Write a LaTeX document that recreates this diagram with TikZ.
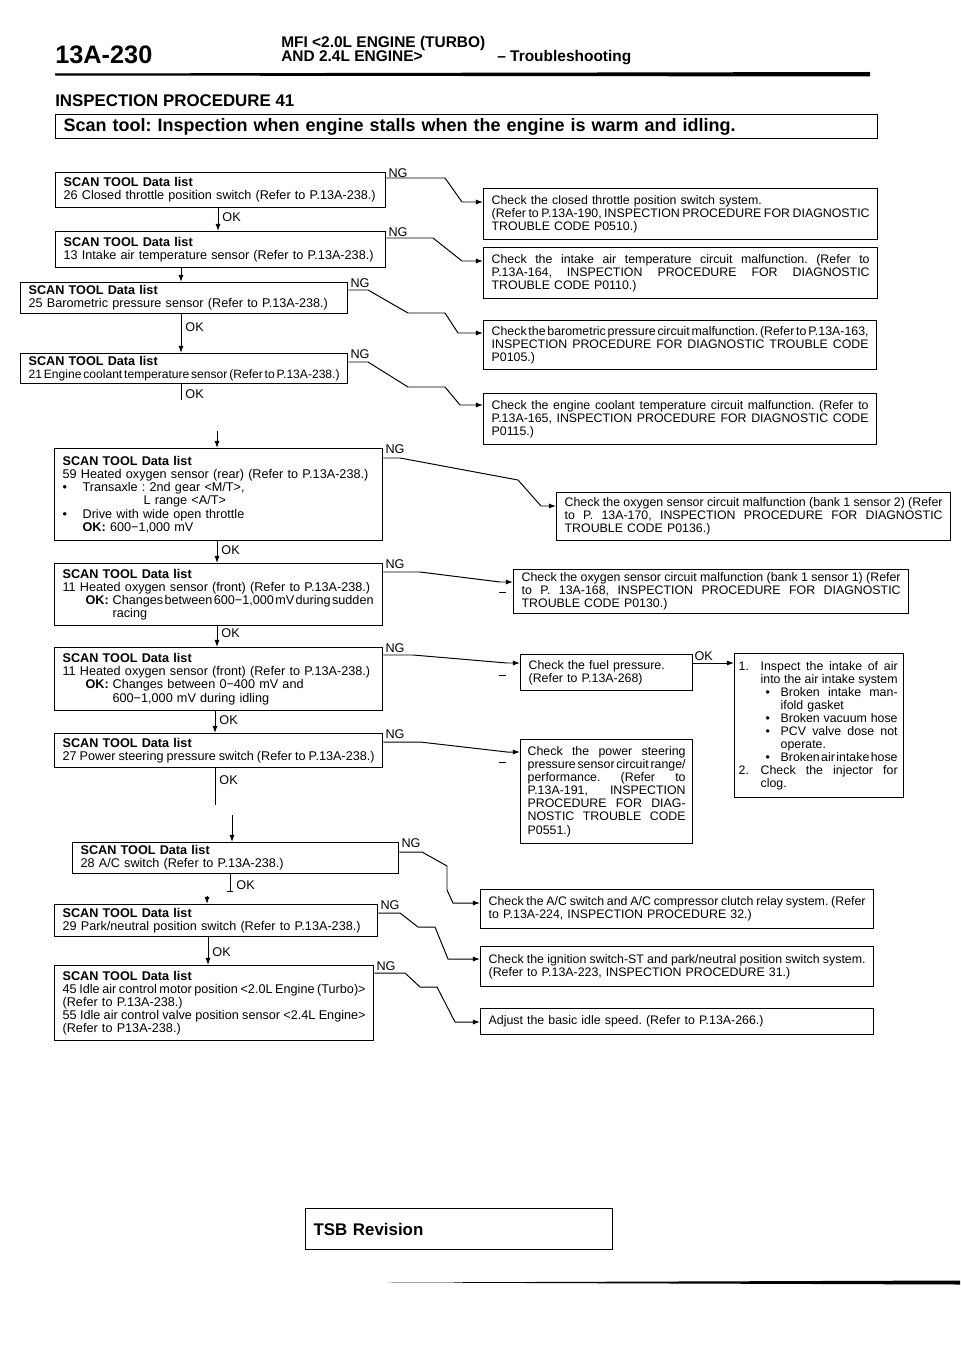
\documentclass[tikz,border=0pt]{standalone}
\usepackage{fontspec}
\setmainfont{Liberation Sans}
\usetikzlibrary{arrows.meta, calc}
\frenchspacing
\newcommand\bodyfont{\fontsize{9}{9.3}\selectfont}
\newcommand\checkfont{\fontsize{8.8}{9.3}\selectfont}
% a line spread to a given width: words pushed apart by fil glue
\makeatletter
\newcommand\jlinew[2]{\leavevmode\hbox to #1{\jl@word#2 \@nil}}
\def\jl@word#1 #2\@nil{#1\if\relax\detokenize{#2}\relax\else\hskip 0.08em plus 1fil\relax\jl@word#2\@nil\fi}
\makeatother
\newcommand\jline[1]{\jlinew{\hsize}{#1}}
\newcommand\oneline[1]{\makebox[\hsize][l]{#1}}

\begin{document}
\begin{tikzpicture}[x=0.25mm, y=-0.25mm,
    scanbox/.style={rectangle, draw, line width=0.9pt, anchor=north west, inner xsep=2mm, inner ysep=0pt, font=\bodyfont},
    checkbox/.style={scanbox, font=\checkfont},
    headtext/.style={anchor=base west, inner sep=0pt, font=\fontsize{11}{11}\selectfont\bfseries},
    ngtag/.style={inner sep=0pt, anchor=west, font=\bodyfont},
    oktag/.style={inner sep=0pt, font=\bodyfont},
    arrow/.style={-{Latex[length=1.8mm, width=1.3mm]}, line width=0.7pt},
    stub/.style={line width=0.7pt}
]
\useasboundingbox (0,0) rectangle (960,1358);

% page header
\node[anchor=base west, inner sep=0pt, font=\fontsize{18}{18}\selectfont\bfseries] (pageno) at (55,64) {13A-230};
\node[headtext] (mfi) at (281,48) {MFI <2.0L ENGINE (TURBO)};
\node[headtext] (engines) at (281,62) {AND 2.4L ENGINE>};
\node[headtext] (trouble) at (497,62) {– Troubleshooting};
\fill (55,73.5) -- (870,72) -- (870,76.5) -- (55,75.5) -- cycle;
\node[anchor=base west, inner sep=0pt, font=\fontsize{12}{12}\selectfont\bfseries] (procno) at (55,107) {INSPECTION PROCEDURE 41};
\node[scanbox, line width=1pt, minimum width=205.5mm, minimum height=6mm, text width=201.5mm, font=\fontsize{12.8}{13}\selectfont\bfseries] (symptom) at (55,114) {Scan tool: Inspection when engine stalls when the engine is warm and idling.};

% scan tool checks
\node[scanbox, minimum width=82.5mm, minimum height=8.75mm, text width=78.5mm] (L1) at (55,172) {\textbf{SCAN TOOL Data list}\\\oneline{26 Closed throttle position switch (Refer to P.13A-238.)}};
\node[scanbox, minimum width=82.5mm, minimum height=9mm, text width=78.5mm] (L2) at (55,231) {\textbf{SCAN TOOL Data list}\\\oneline{13 Intake air temperature sensor (Refer to P.13A-238.)}};
\node[scanbox, minimum width=81.75mm, minimum height=7.75mm, text width=77.75mm] (L3) at (20,282) {\textbf{SCAN TOOL Data list}\\\oneline{25 Barometric pressure sensor (Refer to P.13A-238.)}};
\node[scanbox, minimum width=81.75mm, minimum height=7.5mm, text width=77.75mm] (L4) at (20,353) {\textbf{SCAN TOOL Data list}\\{\fontsize{8.6}{9.3}\selectfont\jline{21 Engine coolant temperature sensor (Refer to P.13A-238.)}}};
\node[scanbox, minimum width=82mm, minimum height=23mm, text width=78mm] (L5) at (54,448) {\textbf{SCAN TOOL Data list}\\
  \oneline{59 Heated oxygen sensor (rear) (Refer to P.13A-238.)}\\
  \makebox[5mm][l]{\textbullet}Transaxle : 2nd gear <M/T>,\\
  \hspace*{20.25mm}L range <A/T>\\
  \makebox[5mm][l]{\textbullet}Drive with wide open throttle\\
  \hspace*{5mm}\textbf{OK:} 600−1,000 mV};
\node[scanbox, minimum width=82mm, minimum height=15.5mm, text width=78mm] (L6) at (54,563) {\textbf{SCAN TOOL Data list}\\
  \oneline{11 Heated oxygen sensor (front) (Refer to P.13A-238.)}\\
  \hspace*{5.75mm}\makebox[6.75mm][l]{\textbf{OK:}}\jlinew{65.25mm}{Changes between 600−1,000 mV during sudden}\\
  \hspace*{12.5mm}racing};
\node[scanbox, minimum width=82mm, minimum height=15.75mm, text width=78mm] (L7) at (54,647) {\textbf{SCAN TOOL Data list}\\
  \oneline{11 Heated oxygen sensor (front) (Refer to P.13A-238.)}\\
  \hspace*{5.75mm}\makebox[6.75mm][l]{\textbf{OK:}}Changes between 0−400 mV and\\
  \hspace*{12.5mm}600−1,000 mV during idling};
\node[scanbox, minimum width=82mm, minimum height=8.5mm, text width=78mm] (L8) at (54,733) {\textbf{SCAN TOOL Data list}\\\jline{27 Power steering pressure switch (Refer to P.13A-238.)}};
\node[scanbox, minimum width=81.5mm, minimum height=7.75mm, text width=77.5mm] (L9) at (72,842) {\textbf{SCAN TOOL Data list}\\28 A/C switch (Refer to P.13A-238.)};
\node[scanbox, minimum width=80.75mm, minimum height=8mm, text width=76.75mm] (L10) at (54,904) {\textbf{SCAN TOOL Data list}\\\oneline{29 Park/neutral position switch (Refer to P.13A-238.)}};
\node[scanbox, minimum width=79.75mm, minimum height=18.75mm, text width=75.75mm] (L11) at (54,965) {\textbf{SCAN TOOL Data list}\\
  \jline{45 Idle air control motor position <2.0L Engine (Turbo)>}\\
  (Refer to P.13A-238.)\\
  \jline{55 Idle air control valve position sensor <2.4L Engine>}\\
  (Refer to P13A-238.)};

% repair actions
\node[checkbox, minimum width=98.5mm, minimum height=12.75mm, text width=94.5mm] (R1) at (483,188) {Check the closed throttle position switch system.\\
  \jline{(Refer to P.13A-190, INSPECTION PROCEDURE FOR DIAGNOSTIC}\\TROUBLE CODE P0510.)};
\node[checkbox, minimum width=98.5mm, minimum height=12.75mm, text width=94.5mm] (R2) at (483,247) {\jline{Check the intake air temperature circuit malfunction. (Refer to}\\
  \jline{P.13A-164, INSPECTION PROCEDURE FOR DIAGNOSTIC}\\TROUBLE CODE P0110.)};
\node[checkbox, minimum width=98.25mm, minimum height=12.25mm, text width=94.25mm] (R3) at (483,320) {\jline{Check the barometric pressure circuit malfunction. (Refer to P.13A-163,}\\
  \jline{INSPECTION PROCEDURE FOR DIAGNOSTIC TROUBLE CODE}\\P0105.)};
\node[checkbox, minimum width=98.25mm, minimum height=12.75mm, text width=94.25mm] (R4) at (483,393) {\jline{Check the engine coolant temperature circuit malfunction. (Refer to}\\
  \jline{P.13A-165, INSPECTION PROCEDURE FOR DIAGNOSTIC CODE}\\P0115.)};
\node[checkbox, minimum width=98.5mm, minimum height=12mm, text width=94.5mm] (R5) at (556,492) {\jline{Check the oxygen sensor circuit malfunction (bank 1 sensor 2) (Refer}\\
  \jline{to P. 13A-170, INSPECTION PROCEDURE FOR DIAGNOSTIC}\\TROUBLE CODE P0136.)};
\node[checkbox, minimum width=98.75mm, minimum height=11mm, text width=94.75mm] (R6) at (513,569) {\jline{Check the oxygen sensor circuit malfunction (bank 1 sensor 1) (Refer}\\
  \jline{to P. 13A-168, INSPECTION PROCEDURE FOR DIAGNOSTIC}\\TROUBLE CODE P0130.)};
\node[checkbox, minimum width=43mm, minimum height=9mm, text width=39mm] (R7) at (520,654) {Check the fuel pressure.\\(Refer to P.13A-268)};
\node[checkbox, inner xsep=1.75mm, minimum width=43mm, minimum height=26mm, text width=39.5mm] (R8) at (520,739) {\jline{Check the power steering}\\
  \jline{pressure sensor circuit range/}\\
  \jline{performance. (Refer to}\\
  \jline{P.13A-191, INSPECTION}\\
  \jline{PROCEDURE FOR DIAG-}\\
  \jline{NOSTIC TROUBLE CODE}\\
  P0551.)};
\node[checkbox, inner xsep=1mm, minimum width=42.25mm, minimum height=36mm, text width=40.25mm] (R12) at (734,653) {\makebox[5.5mm][l]{1.}\jlinew{34.25mm}{Inspect the intake of air}\\
  \hspace*{5.5mm}\jlinew{34.25mm}{into the air intake system}\\
  \hspace*{6.75mm}\makebox[3.75mm][l]{\textbullet}\jlinew{29.25mm}{Broken intake man-}\\
  \hspace*{10.5mm}ifold gasket\\
  \hspace*{6.75mm}\makebox[3.75mm][l]{\textbullet}\jlinew{29.25mm}{Broken vacuum hose}\\
  \hspace*{6.75mm}\makebox[3.75mm][l]{\textbullet}\jlinew{29.25mm}{PCV valve dose not}\\
  \hspace*{10.5mm}operate.\\
  \hspace*{6.75mm}\makebox[3.75mm][l]{\textbullet}\jlinew{29.25mm}{Broken air intake hose}\\
  \makebox[5.5mm][l]{2.}\jlinew{34.25mm}{Check the injector for}\\
  \hspace*{5.5mm}clog.};
\node[checkbox, minimum width=98.25mm, minimum height=9.75mm, text width=94.25mm] (R9) at (480,889) {\jline{Check the A/C switch and A/C compressor clutch relay system. (Refer}\\
  to P.13A-224, INSPECTION PROCEDURE 32.)};
\node[checkbox, minimum width=98.25mm, minimum height=10mm, text width=94.25mm] (R10) at (480,946) {\jline{Check the ignition switch-ST and park/neutral position switch system.}\\
  (Refer to P.13A-223, INSPECTION PROCEDURE 31.)};
\node[checkbox, minimum width=98.25mm, minimum height=6.5mm, text width=94.25mm] (R11) at (480,1008) {Adjust the basic idle speed. (Refer to P.13A-266.)};

% NG labels
\foreach \src/\ng in {L1/ng1, L2/ng2, L3/ng3, L4/ng4, L5/ng5, L6/ng6, L7/ng7, L8/ng8, L9/ng9, L10/ng10, L11/ng11}
  \node[ngtag] (\ng) at ($(\src.north east)+(2,1)$) {NG};
\node[ngtag] (ok12) at ($(R7.north east)+(1,2)$) {OK};

% NG branches
\draw[arrow] ($(L1.north east)+(0,6)$) -- (445,178) -- (462,202) -- ($(R1.north west)+(0,14)$);
\draw[arrow] ($(L2.north east)+(0,7)$) -- (433,238) -- (462,261) -- ($(R2.north west)+(0,14)$);
\draw[arrow] ($(L3.north east)+(0,8)$) -- (368,290) -- (408,313) -- (445,313) -- (458,333) -- ($(R3.north west)+(0,13)$);
\draw[arrow] ($(L4.north east)+(0,9)$) -- (368,362) -- (408,387) -- (445,387) -- (460,405) -- ($(R4.north west)+(0,12)$);
\draw[arrow] ($(L5.north east)+(0,10)$) -- (400,458) -- (518,480) -- (541,506) -- ($(R5.north west)+(0,14)$);
\draw[arrow] ($(L6.north east)+(0,9)$) -- (420,572) -- (500,582) -- ($(R6.north west)+(0,13)$);
\draw[arrow] ($(L7.north east)+(0,8)$) -- (413,655) -- (507,663) -- ($(R7.north west)+(0,9)$);
\draw[arrow] ($(L8.north east)+(0,9)$) -- (420,742) -- (507,752) -- ($(R8.north west)+(0,13)$);
\draw[arrow] ($(L9.north east)+(0,10)$) -- (422,852) -- (447,866) -- (447,890) -- (453,903) -- ($(R9.north west)+(0,14)$);
\draw[arrow] ($(L10.north east)+(0,9)$) -- (400,913) -- (418,927) -- (435,927) -- (448,959) -- ($(R10.north west)+(0,13)$);
\draw[arrow] ($(L11.north east)+(0,8)$) -- (405,973) -- (420,987) -- (437,987) -- (455,1022) -- ($(R11.north west)+(0,14)$);
\draw[arrow] ($(R7.north east)+(0,9)$) -- ($(R12.north west)+(0,10)$);
\draw[stub] (499,592) -- (506,592);
\draw[stub] (499,675) -- (506,675);
\draw[stub] (499,762) -- (506,762);

% OK chain
\coordinate (gap4) at (181,400);
\coordinate (resume5) at (217,431);
\coordinate (gap8) at (215,805);
\coordinate (resume9) at (232,815);
\coordinate (gap9) at (230,892);
\coordinate (resume10) at (207,896);
\draw[arrow] ($(L1.south west)+(163,0)$) -- node[oktag, right=1mm, pos=0.4] (ok1) {OK} ($(L2.north west)+(163,0)$);
\draw[arrow] ($(L2.south west)+(126,0)$) -- ($(L3.north west)+(161,0)$);
\draw[arrow] ($(L3.south west)+(161,0)$) -- node[oktag, right=1mm, pos=0.33] (ok3) {OK} ($(L4.north west)+(161,0)$);
\draw[stub] ($(L4.south west)+(161,0)$) -- node[oktag, right=1mm, pos=0.6] (ok4) {OK} (gap4);
\draw[arrow] (resume5) -- ($(L5.north west)+(163,0)$);
\draw[arrow] ($(L5.south west)+(163,0)$) -- node[oktag, right=1mm, pos=0.4] (ok5) {OK} ($(L6.north west)+(163,0)$);
\draw[arrow] ($(L6.south west)+(163,0)$) -- node[oktag, right=1mm, pos=0.33] (ok6) {OK} ($(L7.north west)+(163,0)$);
\draw[arrow] ($(L7.south west)+(161,0)$) -- node[oktag, right=1mm, pos=0.4] (ok7) {OK} ($(L8.north west)+(161,0)$);
\draw[stub] ($(L8.south west)+(161,0)$) -- node[oktag, right=1mm, pos=0.32] (ok8) {OK} (gap8);
\draw[arrow] (resume9) -- ($(L9.north west)+(160,0)$);
\draw[stub, -{Bar[width=1.5mm]}] ($(L9.south west)+(158,0)$) -- node[oktag, right=1.5mm, pos=0.6] (ok9) {OK} (gap9);
\draw[arrow] (resume10) -- ($(L10.north west)+(153,0)$);
\draw[arrow] ($(L10.south west)+(154,0)$) -- node[oktag, right=1mm, pos=0.55] (ok10) {OK} ($(L11.north west)+(154,0)$);

% footer
\node[scanbox, minimum width=76.75mm, minimum height=10.25mm, text width=72.75mm, font=\fontsize{12}{12}\selectfont\bfseries] (tsb) at (305,1208) {TSB Revision};
\fill (387,1282.5) -- (960,1280.5) -- (960,1284.5) -- cycle;
\end{tikzpicture}
\end{document}
